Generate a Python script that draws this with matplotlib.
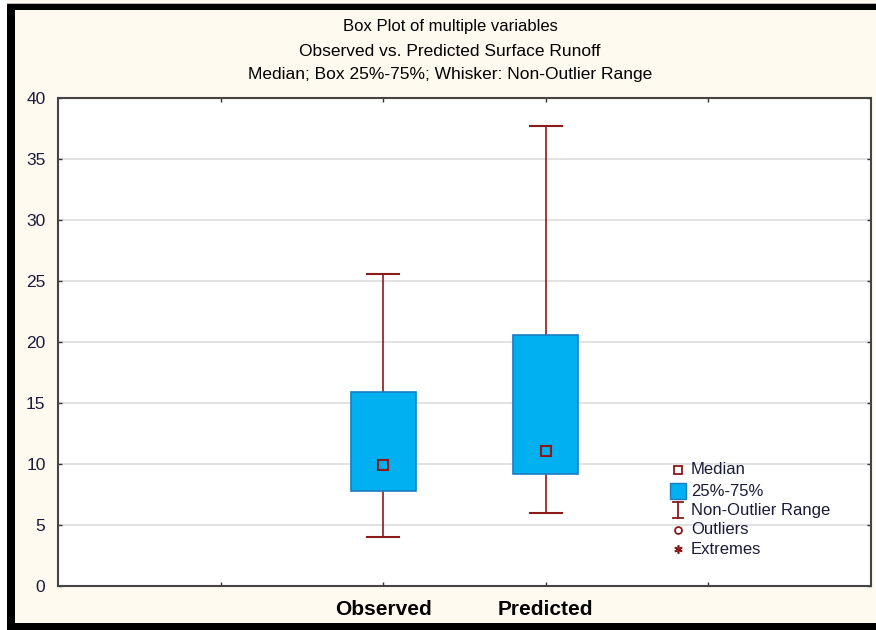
import matplotlib
matplotlib.use("Agg")
import matplotlib.pyplot as plt
from matplotlib.patches import Rectangle
from matplotlib.lines import Line2D

plt.rcParams['font.family'] = ['Liberation Sans', 'DejaVu Sans']

# Summary statistics per variable
categories = ["Observed", "Predicted"]
medians = [9.9, 11.1]
q25 = [7.8, 9.2]
q75 = [15.9, 20.6]
whisk_lo = [4.0, 6.0]
whisk_hi = [25.6, 37.7]

positions = [2, 3]
yticks = [0, 5, 10, 15, 20, 25, 30, 35, 40]

box_fill = "#00B0F0"
box_edge = "#1B7DBD"
whisker_col = "#8B1A1A"
bg = "#FFFAF0"

W, H = 876, 630
fig = plt.figure(figsize=(W / 100, H / 100), dpi=100, facecolor=bg)

ax = fig.add_axes([58 / W, (H - 586) / H, (871 - 58) / W, (586 - 98) / H])
ax.set_facecolor("white")

box_w = 0.4
cap_w = 0.2
for x, med, lo, hi, wl, wh in zip(positions, medians, q25, q75, whisk_lo, whisk_hi):
    # whiskers
    ax.plot([x, x], [hi, wh], color=whisker_col, lw=1.2, zorder=2)
    ax.plot([x, x], [wl, lo], color=whisker_col, lw=1.2, zorder=2)
    ax.plot([x - cap_w / 2, x + cap_w / 2], [wh, wh], color=whisker_col, lw=1.5, zorder=2)
    ax.plot([x - cap_w / 2, x + cap_w / 2], [wl, wl], color=whisker_col, lw=1.5, zorder=2)
    # box
    ax.add_patch(Rectangle((x - box_w / 2, lo), box_w, hi - lo, facecolor=box_fill,
                           edgecolor=box_edge, lw=1.2, zorder=3))
    # median marker
    ax.plot([x], [med], marker="s", ms=7, mfc=box_fill, mec=whisker_col, mew=1.5, zorder=4)

ax.set_xlim(0, 5)
ax.set_ylim(0, 40)
ax.set_yticks(yticks)
ax.set_yticklabels([str(t) for t in yticks], fontsize=12.5, color="#1a1a3a")
ax.set_xticks([1, 2, 3, 4])
ax.set_xticklabels(["", categories[0], categories[1], ""], fontsize=15, fontweight="bold")
ax.tick_params(axis="both", direction="in", length=3, width=1, color="#333333",
               top=True, right=True, pad=9)
ax.tick_params(axis="x", pad=10)
ax.grid(axis="y", color="#DDDDDD", lw=1.2, zorder=0)
ax.set_axisbelow(True)
for s in ax.spines.values():
    s.set_color("#444444")
    s.set_linewidth(1.5)

# titles
fig.text(450 / W, 1 - 27 / H, "Box Plot of multiple variables", ha="center", va="center", fontsize=12)
fig.text(450 / W, 1 - 51 / H, "Observed vs. Predicted Surface Runoff", ha="center", va="center", fontsize=12.5)
fig.text(450 / W, 1 - 75 / H, "Median; Box 25%-75%; Whisker: Non-Outlier Range", ha="center", va="center", fontsize=12.5)

# legend
leg_x_mark = 678 / W
leg_x_text = 691 / W
legend_rows = [
    ("Median", 470, dict(marker="s", ms=6, mfc="white", mec=whisker_col, mew=1.3)),
    ("25%-75%", 491, dict(marker="s", ms=12, mfc=box_fill, mec=box_edge, mew=1)),
    ("Non-Outlier Range", 510, None),
    ("Outliers", 530, dict(marker="o", ms=5, mfc="white", mec=whisker_col, mew=1.3)),
    ("Extremes", 549, dict(marker=(6, 2, 0), ms=6, mec=whisker_col, mew=1.2)),
]
for label, ypix, mk in legend_rows:
    yf = 1 - ypix / H
    if mk is not None:
        fig.add_artist(Line2D([leg_x_mark], [yf], transform=fig.transFigure, ls="none", **mk))
    else:
        dx, dy = 5 / W, 8 / H
        for xs, ys in [([leg_x_mark, leg_x_mark], [yf - dy, yf + dy]),
                       ([leg_x_mark - dx, leg_x_mark + dx], [yf + dy, yf + dy]),
                       ([leg_x_mark - dx, leg_x_mark + dx], [yf - dy, yf - dy])]:
            fig.add_artist(Line2D(xs, ys, transform=fig.transFigure, color=whisker_col, lw=1.3))
    fig.text(leg_x_text, yf, label, ha="left", va="center", fontsize=12, color="#1a1a3a")

# window frame
fig.add_artist(Rectangle((0, 1 - 10 / H), 1, 6 / H, transform=fig.transFigure,
                         facecolor="black", edgecolor="none"))
fig.add_artist(Rectangle((0, 1 - 4 / H), 1, 1.5 / H, transform=fig.transFigure,
                         facecolor="#BBBBBB", edgecolor="none"))
fig.add_artist(Rectangle((7 / W, 0), 8 / W, 1 - 4 / H, transform=fig.transFigure,
                         facecolor="black", edgecolor="none"))
fig.add_artist(Rectangle((7 / W, 0), 1 - 7 / W, 7 / H, transform=fig.transFigure,
                         facecolor="black", edgecolor="none"))
fig.add_artist(Rectangle((0, 0), 7 / W, 1, transform=fig.transFigure,
                         facecolor="white", edgecolor="none"))

fig.savefig("out.png", dpi=100, facecolor=bg)
